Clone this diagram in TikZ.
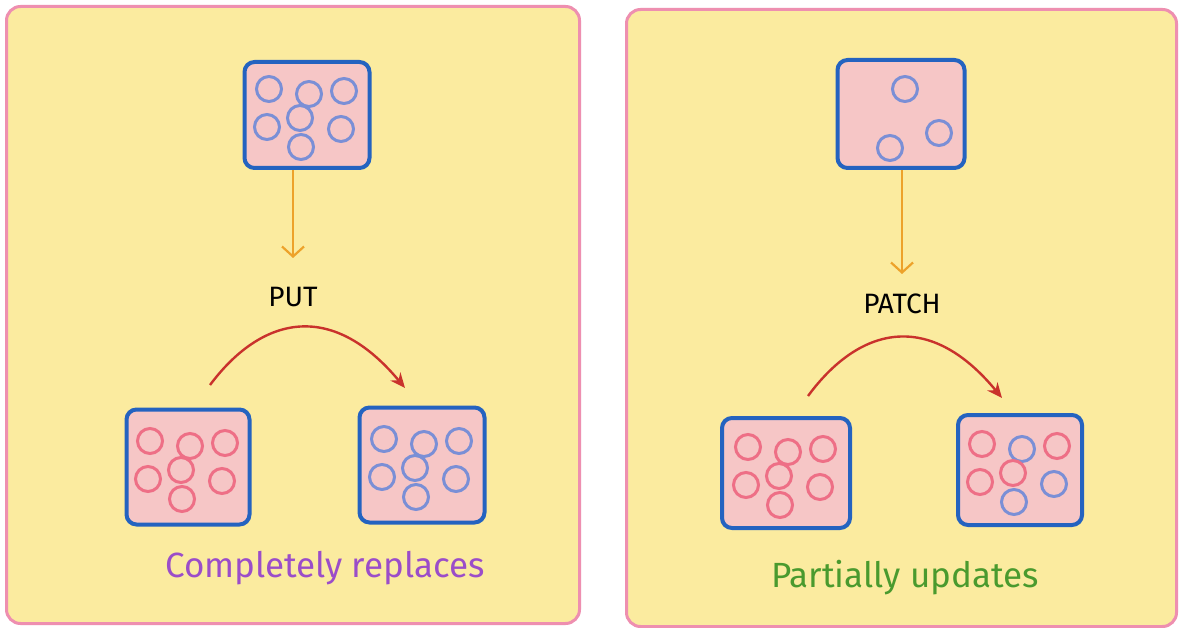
\documentclass[tikz,border=0pt]{standalone}
\usepackage{fontspec}
\setmainfont{Fira Sans}
\usetikzlibrary{arrows.meta,calc}
\definecolor{panelfill}{HTML}{FBEB9F}
\definecolor{panelline}{HTML}{EE8FB0}
\definecolor{boxfill}{HTML}{F6C6C6}
\definecolor{boxline}{HTML}{2463C0}
\definecolor{bluec}{HTML}{7A8FD6}
\definecolor{redc}{HTML}{EE6F86}
\definecolor{orangea}{HTML}{EDA22A}
\definecolor{reda}{HTML}{C9322C}
\definecolor{purpt}{HTML}{9B4DC9}
\definecolor{greent}{HTML}{4A9A2E}
\tikzset{
 panel/.style={draw=panelline,fill=panelfill,line width=3pt,rounded corners=14pt},
 box/.style={draw=boxline,fill=boxfill,line width=4pt,rounded corners=10pt},
 bc/.style={draw=bluec,line width=3pt},
 rc/.style={draw=redc,line width=3pt},
 oarr/.style={draw=orangea,line width=2.2pt,-{Straight Barb[length=10pt,width=22pt]}},
 rarr/.style={draw=reda,line width=2.4pt,-{Stealth[length=15pt,width=13pt]}},
 lab/.style={font=\fontsize{28}{30}\selectfont},
 captxt/.style={font=\fontsize{35}{38}\selectfont},
}
\newcommand{\sevenc}[8]{%
 \draw[#2] ($(#1)+(-38,-26)$) circle (12.5pt);
 \draw[#3] ($(#1)+(2,-21)$) circle (12.5pt);
 \draw[#4] ($(#1)+(37,-24)$) circle (12.5pt);
 \draw[#5] ($(#1)+(-40,12)$) circle (12.5pt);
 \draw[#6] ($(#1)+(-7,3)$) circle (12.5pt);
 \draw[#7] ($(#1)+(34,14)$) circle (12.5pt);
 \draw[#8] ($(#1)+(-6,32)$) circle (12.5pt);}
\begin{document}
\begin{tikzpicture}[x=1pt,y=-1pt]
\useasboundingbox (0,0) rectangle (1196,628);
\fill[white] (0,0) rectangle (1196,628);
\node[panel,minimum width=573pt,minimum height=617pt,anchor=north west] (pl) at (5,5) {};
\node[panel,minimum width=550pt,minimum height=617pt,anchor=north west] (pr) at (625,8) {};
% boxes
\node[box,minimum width=125pt,minimum height=106pt] (lt) at (307,115) {};
\node[box,minimum width=123pt,minimum height=115pt] (lbl) at (188,467) {};
\node[box,minimum width=125pt,minimum height=115pt] (lbr) at (422,465) {};
\node[box,minimum width=127pt,minimum height=108pt] (rt) at (901,114) {};
\node[box,minimum width=128pt,minimum height=110pt] (rbl) at (786,473) {};
\node[box,minimum width=124pt,minimum height=110pt] (rbr) at (1020,470) {};
\sevenc{lt}{bc}{bc}{bc}{bc}{bc}{bc}{bc}
\sevenc{lbl}{rc}{rc}{rc}{rc}{rc}{rc}{rc}
\sevenc{lbr}{bc}{bc}{bc}{bc}{bc}{bc}{bc}
\sevenc{rbl}{rc}{rc}{rc}{rc}{rc}{rc}{rc}
\sevenc{rbr}{rc}{bc}{rc}{rc}{rc}{bc}{bc}
\draw[bc] (905,89) circle (12.5pt);
\draw[bc] (939,133) circle (12.5pt);
\draw[bc] (890,148) circle (12.5pt);
% labels
\node[lab] (put) at (293,297) {PUT};
\node[lab] (patch) at (902,304) {PATCH};
\node[captxt,text=purpt] (cr) at (325,568) {Completely replaces};
\node[captxt,text=greent] (pu) at (905,578) {Partially updates};
% arrows
\draw[oarr] (lt.south -| put) -- ++(0,88) coordinate (la);
\draw[oarr] (rt.south -| patch) -- ++(0,104) coordinate (ra);
\coordinate (ls) at (210,385); \coordinate (le) at (405,388);
\coordinate (rs) at (808,396); \coordinate (re) at (1002,398);
\draw[rarr] (ls) .. controls (260,318) and (330,298) .. (le);
\draw[rarr] (rs) .. controls (858,328) and (928,308) .. (re);
\end{tikzpicture}
\end{document}
